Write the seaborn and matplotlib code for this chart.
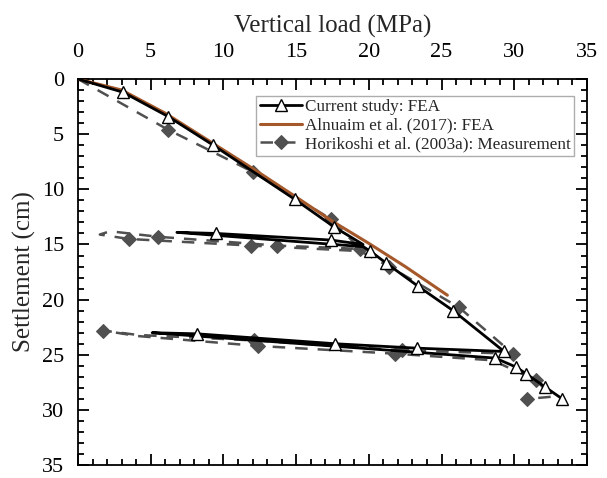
import numpy as np
import pandas as pd
import matplotlib
matplotlib.use("Agg")
import matplotlib.pyplot as plt
import seaborn as sns
from matplotlib.ticker import MultipleLocator

# ---- data ----
fea_load = [0, 3.1, 6.2, 9.3, 14.9, 17.6, 19.6, 17.4, 9.5, 6.8, 19.6, 20.1, 21.2, 23.4,
            25.8, 29.3, 23.3, 17.7, 8.2, 5.1, 28.7, 30.1, 30.8, 32.1, 33.3]
fea_settle = [0, 1.2, 3.4, 6.0, 10.9, 13.4, 15.0, 14.6, 14.0, 13.9, 15.2, 15.6, 16.7, 18.8,
              21.0, 24.7, 24.4, 24.0, 23.1, 23.0, 25.3, 26.1, 26.7, 27.9, 29.0]
fea_marked = [1, 2, 3, 4, 5, 7, 8, 11, 12, 13, 14, 15, 16, 17, 18, 20, 21, 22, 23, 24]

aln_load = [0, 3, 6, 9, 12, 15, 17.5, 20, 22.5, 25.4]
aln_settle = [0, 1.0, 3.1, 5.6, 8.1, 10.7, 12.9, 14.9, 17.0, 19.6]

meas_load = [0, 6.2, 12.0, 17.4, 19.4, 13.7, 5.5, 2.2, 1.5, 3.5, 11.9, 19.4, 21.4, 26.2,
             29.9, 22.3, 12.1, 4.1, 1.7, 4.1, 12.4, 21.8, 28.5, 31.5, 32.6, 30.9]
meas_settle = [0, 4.6, 8.4, 12.7, 15.4, 15.1, 14.3, 13.8, 14.1, 14.5, 15.1, 15.6, 17.0, 20.7,
               24.9, 24.6, 23.7, 23.2, 22.8, 23.3, 24.2, 24.9, 25.5, 27.3, 28.8, 29.0]
meas_marked = [1, 2, 3, 4, 5, 6, 9, 10, 12, 13, 14, 15, 16, 18, 20, 21, 23, 25]

labels = ["Current study: FEA", "Alnuaim et al. (2017): FEA",
          "Horikoshi et al. (2003a): Measurement"]

sns.set_theme(style="ticks")
plt.rcParams["font.family"] = ["Liberation Serif", "DejaVu Serif"]

fig = plt.figure(figsize=(6.07, 4.78), dpi=100)
ax = fig.add_axes([0.1285, 0.027, 0.8385, 0.8077])

df_fea = pd.DataFrame({"x": fea_load, "y": fea_settle})
df_aln = pd.DataFrame({"x": aln_load, "y": aln_settle})
df_meas = pd.DataFrame({"x": meas_load, "y": meas_settle})

sns.lineplot(data=df_meas, x="x", y="y", sort=False, estimator=None, ax=ax,
             color="#505050", lw=1.8, linestyle=(0, (5, 4)), marker="D",
             markevery=meas_marked, markersize=7, markerfacecolor="#505050",
             markeredgecolor="#505050", label=labels[2], zorder=2)
sns.lineplot(data=df_aln, x="x", y="y", sort=False, estimator=None, ax=ax,
             color="#a5582a", lw=2.2, label=labels[1], zorder=3)
sns.lineplot(data=df_fea, x="x", y="y", sort=False, estimator=None, ax=ax,
             color="black", lw=2.0, marker="^", markevery=fea_marked, markersize=8.5,
             markerfacecolor="white", markeredgecolor="black", markeredgewidth=1.0,
             label=labels[0], zorder=4)

ax.set_xlim(0, 35)
ax.set_ylim(35, 0)
ax.xaxis.set_major_locator(MultipleLocator(5))
ax.xaxis.set_minor_locator(MultipleLocator(1))
ax.yaxis.set_major_locator(MultipleLocator(5))
ax.yaxis.set_minor_locator(MultipleLocator(1))
ax.xaxis.tick_top()
ax.xaxis.set_label_position("top")
ax.tick_params(which="both", direction="in", top=True, bottom=True, left=True, right=True,
               labelbottom=False, labeltop=True, width=1.3, colors="black", labelsize=16)
ax.tick_params(axis="x", which="major", pad=12)
ax.tick_params(axis="y", which="major", pad=10)
ax.tick_params(which="major", length=8)
ax.tick_params(which="minor", length=4)
for s in ax.spines.values():
    s.set_linewidth(1.3)
    s.set_color("black")

ax.set_xlabel("Vertical load (MPa)", fontsize=18, labelpad=8)
ax.set_ylabel("Settlement (cm)", fontsize=18, labelpad=4)

h, l = ax.get_legend_handles_labels()
order = [l.index(t) for t in labels]
leg = ax.legend([h[i] for i in order], [l[i] for i in order], loc="upper right",
                bbox_to_anchor=(0.985, 0.97), fontsize=12.3, frameon=True, fancybox=False,
                edgecolor="#999999", handlelength=2.5, handletextpad=0.15,
                borderpad=0.2, labelspacing=0.15, borderaxespad=0.3)
leg.get_frame().set_linewidth(1.0)

fig.savefig("out.png", dpi=100)
